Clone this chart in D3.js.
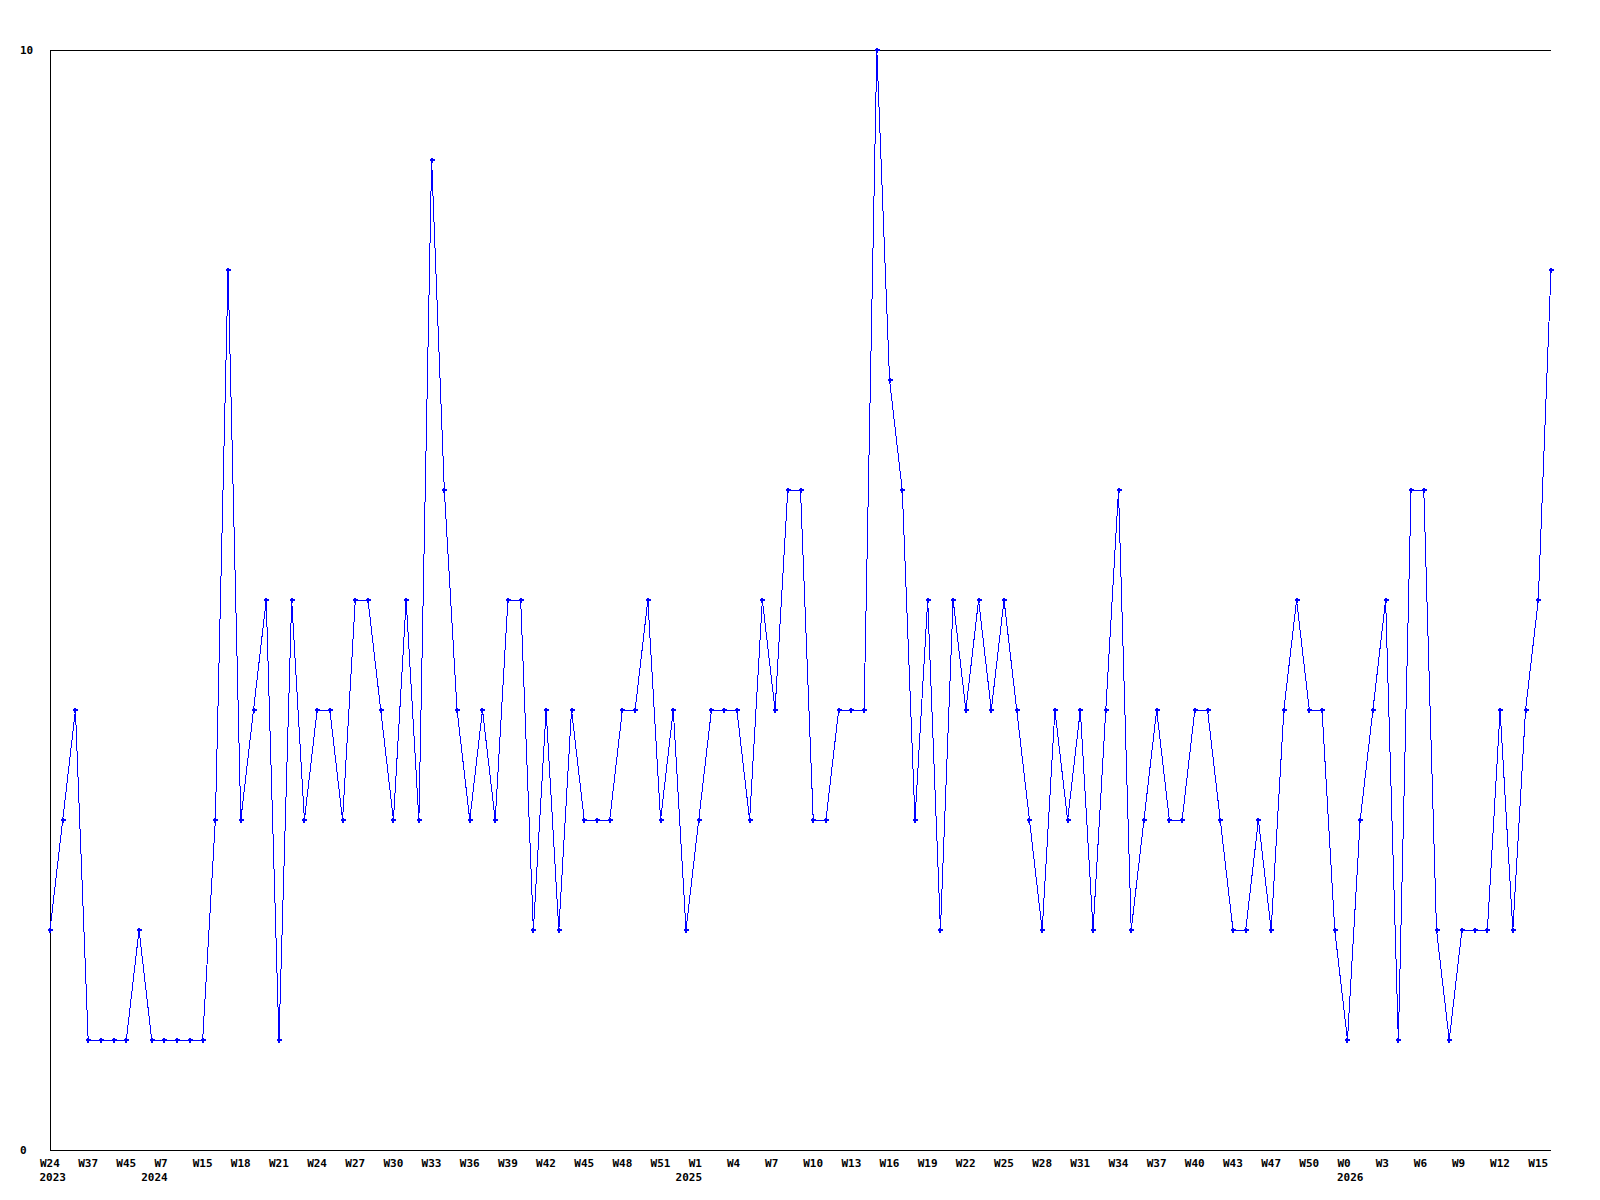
<!DOCTYPE html>
<html>
<head>
<meta charset="utf-8">
<script src="https://cdn.jsdelivr.net/npm/d3@7"></script>
<style>
  html, body { margin: 0; padding: 0; background: #fff; }
  svg { display: block; }
  text { font-family: "DejaVu Sans Mono", monospace; font-weight: bold; font-size: 11px; fill: #000; }
</style>
</head>
<body>
<svg id="chart" width="1600" height="1200"></svg>
<script>
// ---- data ----
const values = [
  2, 3, 4, 1, 1, 1, 1, 2, 1, 1,
  1, 1, 1, 3, 8, 3, 4, 5, 1, 5,
  3, 4, 4, 3, 5, 5, 4, 3, 5, 3,
  9, 6, 4, 3, 4, 3, 5, 5, 2, 4,
  2, 4, 3, 3, 3, 4, 4, 5, 3, 4,
  2, 3, 4, 4, 4, 3, 5, 4, 6, 6,
  3, 3, 4, 4, 4, 10, 7, 6, 3, 5,
  2, 5, 4, 5, 4, 5, 4, 3, 2, 4,
  3, 4, 2, 4, 6, 2, 3, 4, 3, 3,
  4, 4, 3, 2, 2, 3, 2, 4, 5, 4,
  4, 2, 1, 3, 4, 5, 1, 6, 6, 2,
  1, 2, 2, 2, 4, 2, 4, 5, 8
];
const weekLabels = [
  "W24", "W37", "W45", "W7", "W15", "W18", "W21", "W24", "W27", "W30",
  "W33", "W36", "W39", "W42", "W45", "W48", "W51", "W1", "W4", "W7",
  "W10", "W13", "W16", "W19", "W22", "W25", "W28", "W31", "W34", "W37",
  "W40", "W43", "W47", "W50", "W0", "W3", "W6", "W9", "W12", "W15"
];
const labelStep = 3;
const yearLabels = ["2023", "2024", "2025", "2026"];
const yearPositions = [0, 8, 50, 102];
const yTicks = [0, 10];

// ---- layout ----
const svg = d3.select("#chart");
const pLeft = 50, pRight = 1551, pTop = 50, pBottom = 1150;

const idx = d3.range(values.length);
const x = d3.scalePoint().domain(idx).range([pLeft, pRight]);
const y = d3.scaleLinear().domain([0, 10]).range([pBottom, pTop]);

// frame: left, top, bottom
svg.append("g").attr("shape-rendering", "crispEdges")
  .selectAll("line").data([
    [pLeft, pTop, pLeft, pBottom],
    [pLeft, pTop, pRight, pTop],
    [pLeft, pBottom, pRight, pBottom]
  ]).join("line")
  .attr("x1", d => d[0]).attr("y1", d => d[1])
  .attr("x2", d => d[2]).attr("y2", d => d[3])
  .attr("stroke", "#000").attr("stroke-width", 1);

// y axis labels
const yAxis = d3.axisLeft(y).tickValues(yTicks).tickSize(0).tickFormat(d3.format("d"));
const gy = svg.append("g").attr("transform", `translate(${pLeft},0)`).call(yAxis);
gy.attr("font-family", null).attr("font-size", null);
gy.select(".domain").remove();
gy.selectAll("text")
  .attr("x", 20 - pLeft).attr("dy", "0.36em")
  .attr("text-anchor", "start");

// x axis week labels
const tickIdx = weekLabels.map((_, i) => i * labelStep);
const xAxis = d3.axisBottom(x).tickValues(tickIdx).tickSize(0)
  .tickFormat((d) => weekLabels[d / labelStep]);
const gx = svg.append("g").attr("transform", `translate(0,${pBottom})`).call(xAxis);
gx.attr("font-family", null).attr("font-size", null).attr("text-anchor", null);
gx.select(".domain").remove();
gx.selectAll("text")
  .attr("y", 0).attr("dy", 0)
  .attr("transform", "translate(-10.5,16.5)")
  .attr("text-anchor", "start");

// year labels
svg.append("g").selectAll("text").data(yearLabels).join("text")
  .attr("x", (d, i) => x(yearPositions[i]) - 10.5)
  .attr("y", pBottom + 31)
  .attr("text-anchor", "start")
  .text(d => d);

// line
const line = d3.line().x((d, i) => x(i)).y(d => y(d));
svg.append("path").datum(values)
  .attr("d", line)
  .attr("fill", "none")
  .attr("stroke", "#0000ff")
  .attr("stroke-width", 1)
  .attr("shape-rendering", "crispEdges");

// markers (small plus)
const markerPath = "M-2.5,-1H2.5V1H-2.5Z M-1,-2.5H1V2.5H-1Z";
svg.append("g").selectAll("path").data(values).join("path")
  .attr("transform", (d, i) => `translate(${Math.round(x(i))},${Math.round(y(d))})`)
  .attr("d", markerPath)
  .attr("fill", "#0000ff")
  .attr("shape-rendering", "crispEdges");
</script>
</body>
</html>
